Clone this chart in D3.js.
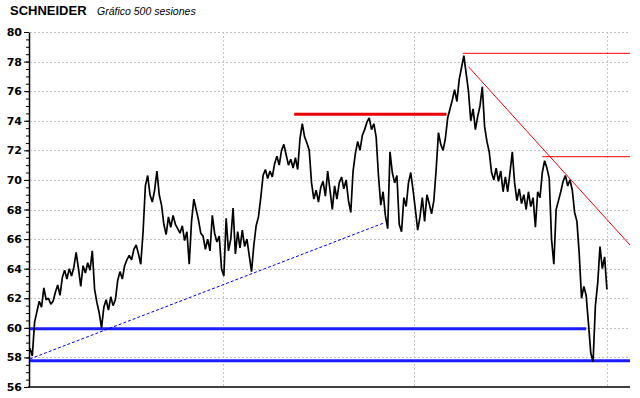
<!DOCTYPE html>
<html>
<head>
<meta charset="utf-8">
<script src="https://cdn.jsdelivr.net/npm/d3@7"></script>
<style>
  body { margin: 0; background: #ffffff; }
</style>
</head>
<body>
<div id="canvas"></div>
<script>
"use strict"

/* the chart data */
let yTicks = [58, 60, 62, 64, 66, 68, 70, 72, 74, 76, 78, 80];
let gridSessions = [167, 333, 500];//vertical grid
let sessionStep = 2;//one close every 2 sessions

let closes = [
  58.6, 58.1, 60.4, 61.1, 61.8, 61.4, 62.7, 61.9, 62.0, 61.6,
  61.8, 62.4, 62.9, 62.2, 63.4, 63.9, 63.3, 64.0, 63.5, 64.1,
  65.1, 64.0, 62.8, 64.2, 63.7, 64.4, 63.9, 65.2, 62.6, 61.7,
  61.0, 60.0, 61.4, 61.9, 61.2, 62.1, 61.5, 61.9, 63.2, 63.8,
  63.3, 64.2, 64.6, 64.9, 64.6, 65.3, 65.6, 65.0, 64.3, 66.5,
  69.6, 70.3, 69.0, 68.5, 69.3, 70.6, 69.0, 68.3, 67.0, 66.3,
  67.5, 66.8, 67.6, 67.0, 66.7, 66.4, 66.9, 65.9, 66.5, 64.3,
  67.2, 68.7, 68.0, 67.3, 66.4, 66.2, 65.3, 66.0, 65.2, 67.6,
  66.4, 65.8, 66.2, 64.0, 63.5, 67.4, 65.2, 66.0, 68.1, 65.0,
  66.5, 65.4, 66.6, 65.5, 66.0, 64.9, 63.8, 65.6, 66.9, 67.5,
  68.8, 70.3, 70.7, 70.1, 70.6, 70.2, 71.1, 71.6, 71.0, 72.0,
  72.4, 71.7, 71.0, 71.4, 70.8, 71.5, 70.7, 72.8, 73.8, 72.9,
  72.5, 72.0, 69.8, 68.7, 69.3, 68.5, 69.5, 69.9, 68.9, 70.6,
  69.3, 68.0, 69.6, 68.7, 69.8, 70.2, 69.4, 70.0, 68.6, 67.8,
  70.6, 71.8, 72.6, 72.0, 73.0, 73.4, 73.9, 74.2, 73.4, 73.8,
  72.9, 70.3, 68.3, 69.2, 67.6, 66.7, 71.9, 70.5, 69.8, 70.3,
  67.0, 66.5, 68.8, 68.2, 69.8, 70.5, 69.3, 68.0, 66.6, 67.5,
  68.8, 67.2, 69.0, 68.4, 67.7, 68.6, 70.7, 73.2, 72.4, 72.0,
  72.8, 74.2, 74.8, 75.4, 76.1, 75.3, 76.8, 77.6, 78.4, 77.2,
  76.0, 74.0, 74.8, 73.4, 74.3, 75.0, 76.3, 73.6, 72.6, 71.9,
  70.5, 70.0, 70.8, 69.9, 70.6, 69.2, 70.2, 69.2, 70.5, 71.9,
  69.8, 68.6, 69.4, 68.4, 69.0, 68.0, 69.2, 68.2, 68.8, 66.8,
  69.2, 68.8, 70.5, 71.3, 70.8, 70.1, 66.0, 64.3, 68.0, 68.6,
  69.2, 69.9, 70.3, 69.6, 70.0, 69.3, 67.8, 67.2, 65.0, 62.0,
  62.8, 62.2, 60.3, 58.3, 57.7, 61.5, 63.0, 65.5, 64.0, 64.8, 62.6
];

/* the drawn lines: start session, start value, end session, end value */
let blueSupports = [
  [0, 59.93, 482, 59.93],
  [0, 57.77, 520, 57.77]
];
let blueTrend = [0, 57.9, 306, 67.07];
let redThick = [229, 74.44, 361, 74.44];
let redThin = [
  [375, 78.56, 520, 78.56],
  [380, 77.65, 520, 65.6],
  [444, 71.57, 520, 71.57]
];

let drawing = d3.select("#canvas")
    .append("svg")
    .attr("width", 640)
    .attr("height", 398)
    .style("font-family", "'DejaVu Sans', Verdana, sans-serif");

/* scales */
let x = d3.scaleLinear()
    .domain([0, 520])
    .range([30, 630]);

let y = d3.scaleLinear()
    .domain([56, 80])
    .range([387, 32]);

/* title */
drawing.append("text")
    .attr("x", 10)
    .attr("y", 15)
    .attr("font-family", "'Liberation Sans', Arial, sans-serif")
    .attr("font-weight", "bold")
    .attr("font-size", 13)
    .text("SCHNEIDER");

drawing.append("text")
    .attr("x", 97)
    .attr("y", 15)
    .attr("font-family", "'Liberation Sans', Arial, sans-serif")
    .attr("font-style", "italic")
    .attr("font-size", 10.5)
    .text("Gráfico 500 sesiones");

/* grid lines, dotted grey */
drawing.append("g")
    .selectAll("line")
    .data(yTicks)
    .join("line")
    .attr("x1", x(0))
    .attr("x2", x(520))
    .attr("y1", d => Math.round(y(d)) + 0.5)
    .attr("y2", d => Math.round(y(d)) + 0.5)
    .attr("stroke", "#c4c4c4")
    .attr("stroke-dasharray", "2,2");

drawing.append("g")
    .selectAll("line")
    .data(gridSessions)
    .join("line")
    .attr("x1", d => Math.round(x(d)) + 0.5)
    .attr("x2", d => Math.round(x(d)) + 0.5)
    .attr("y1", y(80))
    .attr("y2", y(56))
    .attr("stroke", "#c4c4c4")
    .attr("stroke-dasharray", "2,2");

/* blue support lines, thick */
drawing.append("g")
    .selectAll("line")
    .data(blueSupports)
    .join("line")
    .attr("x1", d => x(d[0]))
    .attr("y1", d => y(d[1]))
    .attr("x2", d => x(d[2]))
    .attr("y2", d => y(d[3]))
    .attr("stroke", "#1c1cff")
    .attr("stroke-width", 3);

/* blue dashed trend line */
drawing.append("line")
    .attr("x1", x(blueTrend[0]))
    .attr("y1", y(blueTrend[1]))
    .attr("x2", x(blueTrend[2]))
    .attr("y2", y(blueTrend[3]))
    .attr("stroke", "#0000ff")
    .attr("stroke-width", 1)
    .attr("stroke-dasharray", "3,2");

/* the price, black */
let priceLine = d3.line()
    .x((d, i) => x(i * sessionStep))
    .y(d => y(d));

drawing.append("path")
    .datum(closes)
    .attr("d", priceLine)
    .attr("fill", "none")
    .attr("stroke", "black")
    .attr("stroke-width", 1.7)
    .attr("stroke-linejoin", "bevel");

/* red resistance lines */
drawing.append("line")
    .attr("x1", x(redThick[0]))
    .attr("y1", y(redThick[1]))
    .attr("x2", x(redThick[2]))
    .attr("y2", y(redThick[3]))
    .attr("stroke", "#ee0000")
    .attr("stroke-width", 3);

drawing.append("g")
    .selectAll("line")
    .data(redThin)
    .join("line")
    .attr("x1", d => x(d[0]))
    .attr("y1", d => y(d[1]))
    .attr("x2", d => x(d[2]))
    .attr("y2", d => y(d[3]))
    .attr("stroke", "#ff0000")
    .attr("stroke-width", 1);

/* left axis: small ticks every half, big ticks with labels */
let halfTicks = d3.range(56, 80.01, 0.5);

drawing.append("g")
    .attr("transform", "translate(29,0)")
    .call(d3.axisLeft(y).tickValues(halfTicks).tickSize(3).tickFormat(""))
    .call(g => g.select(".domain").remove())
    .call(g => g.selectAll("line").attr("stroke", "black"));

drawing.append("g")
    .attr("transform", "translate(29,0)")
    .call(d3.axisLeft(y).tickValues([56].concat(yTicks)).tickSize(5).tickSizeOuter(0).tickPadding(2))
    .call(g => g.select(".domain").attr("stroke", "black").attr("stroke-width", 1.5))
    .call(g => g.selectAll("line").attr("stroke", "black"))
    .call(g => g.selectAll("text")
        .attr("font-family", "'DejaVu Sans', Verdana, sans-serif")
        .attr("font-weight", "bold")
        .attr("font-size", 11)
        .attr("fill", "black"));

/* bottom axis line */
drawing.append("line")
    .attr("x1", 28)
    .attr("x2", x(520))
    .attr("y1", y(56))
    .attr("y2", y(56))
    .attr("stroke", "black")
    .attr("stroke-width", 1.5);
</script>
</body>
</html>
